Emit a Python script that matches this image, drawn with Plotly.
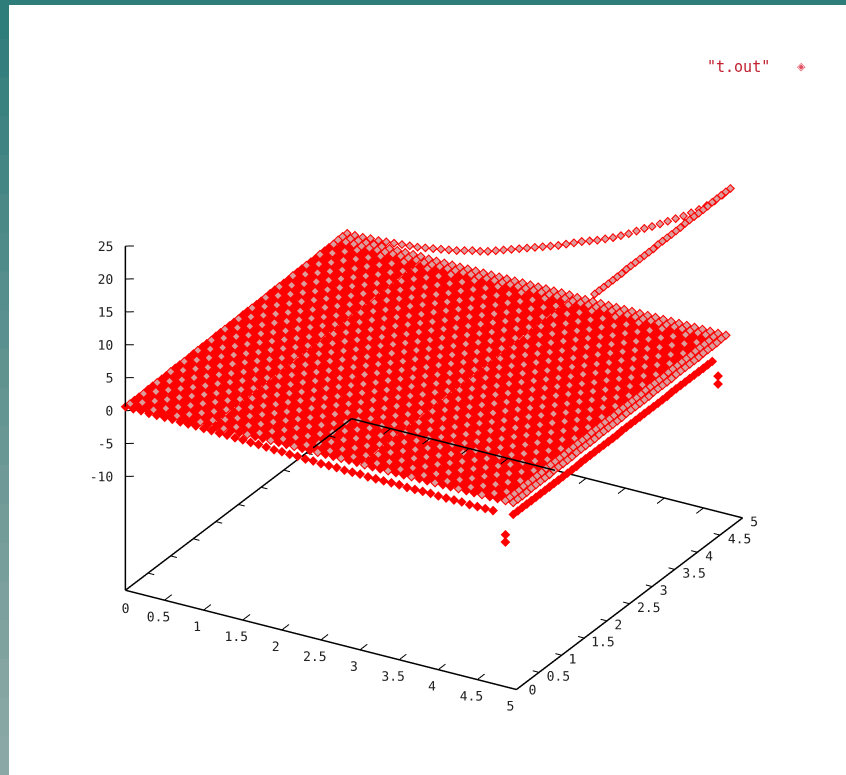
import plotly.graph_objects as go

# ---------- data ----------
x_grid = [0.0,0.1,0.2,0.3,0.4,0.5,0.6,0.7,0.8,0.9,1.0,1.1,1.2,1.3,1.4,1.5,1.6,1.7,1.8,1.9,
          2.0,2.1,2.2,2.3,2.4,2.5,2.6,2.7,2.8,2.9,3.0,3.1,3.2,3.3,3.4,3.5,3.6,3.7,3.8,3.9,
          4.0,4.1,4.2,4.3,4.4,4.5,4.6,4.7,4.8,4.9]
y_grid = [0.1,0.2,0.3,0.4,0.5,0.6,0.7,0.8,0.9,1.0,1.1,1.2,1.3,1.4,1.5,1.6,1.7,1.8,1.9,2.0,
          2.1,2.2,2.3,2.4,2.5,2.6,2.7,2.8,2.9,3.0,3.1,3.2,3.3,3.4,3.5,3.6,3.7,3.8,3.9,4.0,
          4.1,4.2,4.3,4.4,4.5,4.6,4.7,4.8]
row_level = [0.5,0.5,0.5,0.5,0.6,0.6,0.6,0.6,0.6,0.7,0.7,0.7,0.7,0.7,0.8,0.8,0.8,0.8,0.8,0.9,
             0.9,0.9,0.9,0.9,0.9,1.0,1.0,1.0,1.0,1.0,1.0,1.1,1.1,1.1,1.1,1.1,1.2,1.2,1.2,1.2,
             1.2,1.2,1.3,1.3,1.3,1.3,1.4,1.4]
col_offset = [0.0,0.0,0.0,0.0,0.0,0.0,0.0,0.0,0.0,0.0,0.0,-0.1,-0.1,-0.1,-0.1,-0.1,-0.1,-0.1,-0.1,-0.1,
              -0.1,-0.1,-0.1,-0.1,-0.1,-0.1,-0.1,-0.1,-0.1,-0.1,-0.2,-0.2,-0.2,-0.2,-0.2,-0.2,-0.2,-0.2,-0.2,-0.2,
              -0.2,-0.2,-0.2,-0.2,-0.2,-0.2,-0.2,-0.2,-0.2,-0.2]

front_x = [0.0,0.1,0.2,0.3,0.4,0.5,0.6,0.7,0.8,0.9,1.0,1.1,1.2,1.3,1.4,1.5,1.6,1.7,1.8,1.9,
           2.0,2.1,2.2,2.3,2.4,2.5,2.6,2.7,2.8,2.9,3.0,3.1,3.2,3.3,3.4,3.5,3.6,3.7,3.8,3.9,
           4.0,4.1,4.2,4.3,4.4,4.5,4.6,4.7]
front_z = [0.6,0.6,0.6,0.5,0.5,0.5,0.5,0.4,0.4,0.4,0.3,0.3,0.2,0.2,0.1,0.1,0.0,0.0,-0.1,-0.2,
           -0.2,-0.3,-0.3,-0.4,-0.4,-0.5,-0.5,-0.5,-0.6,-0.6,-0.6,-0.7,-0.7,-0.7,-0.7,-0.7,-0.8,-0.8,-0.8,-0.8,
           -0.9,-0.9,-0.9,-0.9,-1.0,-1.0,-1.0,-1.0]

strip_y = [0.1,0.2,0.3,0.4,0.5,0.6,0.7,0.8,0.9,1.0,1.1,1.2,1.3,1.4,1.5,1.6,1.7,1.8,1.9,2.0,2.1,2.2,2.3,2.4,
           2.5,2.6,2.7,2.8,2.9,3.0,3.1,3.2,3.3,3.4,3.5,3.6,3.7,3.8,3.9,4.0,4.1,4.2,4.3,4.4,4.5]
strip_z = [-1.5,-1.5,-1.5,-1.5,-1.5,-1.5,-1.5,-1.5,-1.5,-1.5,-1.5,-1.5,-1.5,-1.5,-1.5,-1.4,-1.4,-1.4,-1.4,-1.4,-1.4,-1.4,-1.4,-1.4,
           -1.3,-1.3,-1.3,-1.3,-1.3,-1.3,-1.3,-1.3,-1.3,-1.3,-1.3,-1.2,-1.2,-1.2,-1.2,-1.2,-1.2,-1.2,-1.2,-1.2,-1.2]

curve_x = [0.0,0.1,0.2,0.3,0.4,0.5,0.6,0.7,0.8,0.9,1.0,1.1,1.2,1.3,1.4,1.5,1.6,1.7,1.8,1.9,
           2.0,2.1,2.2,2.3,2.4,2.5,2.6,2.7,2.8,2.9,3.0,3.1,3.2,3.3,3.4,3.5,3.6,3.7,3.8,3.9,
           4.0,4.1,4.2,4.3,4.4,4.5,4.6,4.7,4.8,4.9]
curve_z = [1.4,1.4,1.4,1.5,1.5,1.6,1.7,1.8,1.9,2.0,2.2,2.4,2.6,2.8,3.0,3.3,3.6,3.8,4.1,4.5,
           4.9,5.3,5.7,6.1,6.5,6.9,7.3,7.7,8.2,8.7,9.2,9.6,10.0,10.5,11.0,11.6,12.2,12.9,13.6,14.2,
           14.9,15.6,16.3,17.0,17.8,18.6,19.5,20.5,21.7,23.0]

edge_y = [1.9,2.0,2.1,2.2,2.3,2.4,2.5,2.6,2.7,2.8,2.9,3.0,3.1,3.2,3.3,3.4,3.5,3.6,3.7,3.8,3.9,
          4.0,4.1,4.2,4.3,4.4,4.5,4.6,4.7,4.8,4.9]
edge_z = [22.6,22.6,22.6,22.6,22.6,22.6,22.6,22.7,22.7,22.7,22.7,22.7,22.7,22.7,22.8,22.8,22.8,22.8,22.8,22.8,22.9,
          22.9,22.9,22.9,22.9,22.9,23.0,23.0,23.0,23.0,23.0]

outlier_x = [4.8,4.8,4.8,4.8]
outlier_y = [0.1,0.1,4.8,4.8]
outlier_z = [-4.9,-6.0,-5.3,-6.5]

axis_ticks = [0,0.5,1,1.5,2,2.5,3,3.5,4,4.5,5]
axis_labels = ["0","0.5","1","1.5","2","2.5","3","3.5","4","4.5","5"]
z_ticks = [-10,-5,0,5,10,15,20,25]
z_range = [-27.3,25]

band_colors = ["#2e7d7a","#347f7d","#398280","#3f8482","#448684","#4a8986","#4f8b89","#558e8c","#5a908f","#5f9390",
               "#649592","#699794","#6e9996","#739b98","#789e9b","#7ca09d","#80a29f","#84a5a2","#87a7a4","#8aa9a6"]

# ---------- build ----------
red_x, red_y, red_z, pink_x, pink_y, pink_z = [], [], [], [], [], []
for j, yv in enumerate(y_grid):
    for i, xv in enumerate(x_grid):
        z = row_level[j] + col_offset[i]
        red_x.append(xv); red_y.append(yv); red_z.append(z)
        if (i - j) % 3 == 0 or j >= len(y_grid) - 2 or i >= len(x_grid) - 2:
            pink_x.append(xv); pink_y.append(yv); pink_z.append(z)

RED, PINK = "#ff0000", "#dc9c9c"
EYE = (0.45, -0.778, 0.439)
ASPECT = (1.192, 1.192, 1.003)
K = 5.0

def pts(x, y, z, symbol, size, color=RED):
    return go.Scatter3d(x=x, y=y, z=z, mode="markers", showlegend=False, hoverinfo="skip",
                        marker=dict(symbol=symbol, size=size, color=color, line=dict(width=0)))
def seg(x, y, z, width):
    return go.Scatter3d(x=x, y=y, z=z, mode="lines", showlegend=False, hoverinfo="skip",
                        line=dict(color="#000000", width=width))
def labels(x, y, z, text, pos):
    return go.Scatter3d(x=x, y=y, z=z, mode="text", text=text, textposition=pos, showlegend=False, hoverinfo="skip",
                        textfont=dict(family="DejaVu Sans Mono", size=13, color="#222222"))
def over_surface(x, y, z, width, t=1.254):
    # same screen position, moved along the line of sight so the back border shows over the red mass
    dx = EYE[0]*t/ASPECT[0]*5.04; dy = EYE[1]*t/ASPECT[1]*5.04; dz = EYE[2]*t/ASPECT[2]*(z_range[1]-z_range[0])
    return seg([v+dx for v in x], [v+dy for v in y], [v+dz for v in z], width)

fig = go.Figure()
fig.add_trace(pts(red_x, red_y, red_z, "diamond", 3.2))
fig.add_trace(pts(front_x, [0.0]*len(front_x), front_z, "diamond", 3.2))
fig.add_trace(pts([4.9]*len(strip_y), strip_y, strip_z, "diamond", 3.2))
fig.add_trace(pts(curve_x, [4.9]*len(curve_x), curve_z, "diamond", 3))
fig.add_trace(pts([4.9]*len(edge_y), edge_y, edge_z, "diamond", 3))
fig.add_trace(pts(outlier_x, outlier_y, outlier_z, "diamond", 3.2))
fig.add_trace(pts(pink_x, pink_y, pink_z, "diamond", 2.2, PINK))
fig.add_trace(pts(curve_x, [4.9]*len(curve_x), curve_z, "diamond", 2, PINK))
fig.add_trace(pts([4.9]*len(edge_y), edge_y, edge_z, "diamond", 2, PINK))

# base box, z axis and ticks, one trace per edge
zb, zt = z_range
fig.add_trace(seg([0,5],[0,0],[zb,zb],3))
fig.add_trace(seg([5,5],[0,5],[zb,zb],3))
fig.add_trace(seg([0,5],[5,5],[zb,zb],3))
fig.add_trace(seg([0,0],[0,5],[zb,zb],3))
fig.add_trace(seg([0,0],[0,0],[zb,zt],3))
for t in axis_ticks[1:-1]:
    fig.add_trace(seg([t,t],[0,0.16],[zb,zb],2))
    fig.add_trace(seg([t,t],[5,4.84],[zb,zb],2))
    fig.add_trace(seg([0,0.08],[t,t],[zb,zb],2))
    fig.add_trace(seg([5,4.92],[t,t],[zb,zb],2))
for t in z_ticks:
    fig.add_trace(seg([0,0.08],[0,0.05],[t,t],2))

# the part of the back border that shows through the surface
fig.add_trace(over_surface([0,2.6],[5,5],[zb,zb],3))
fig.add_trace(over_surface([0,0],[4.15,5],[zb,zb],3))
for t in axis_ticks[1:5]:
    fig.add_trace(over_surface([t,t],[5,4.84],[zb,zb],2))
fig.add_trace(over_surface([0,0.08],[4.5,4.5],[zb,zb],2))

# axis labels
fig.add_trace(labels([max(0, t-0.08) for t in axis_ticks], [0]*len(axis_ticks), [zb]*len(axis_ticks), axis_labels, "bottom center"))
fig.add_trace(labels([5]*len(axis_ticks), [max(0, t-0.1) for t in axis_ticks], [zb]*len(axis_ticks), axis_labels, "middle right"))
fig.add_trace(labels([0]*len(z_ticks), [0]*len(z_ticks), z_ticks, [str(v) for v in z_ticks], "middle left"))

ax = dict(range=[-0.02,5.02], showbackground=False, showgrid=False, zeroline=False, showline=False, ticks="",
          showspikes=False, title=dict(text=""), showticklabels=False)
fig.update_layout(
    width=846, height=775, margin=dict(l=0,r=0,t=0,b=0), paper_bgcolor="#ffffff", showlegend=False,
    scene=dict(
        domain=dict(x=[22/846,1], y=[11/775,1]),
        xaxis=ax, yaxis=ax, zaxis=dict(ax, range=[z_range[0]-0.01, z_range[1]+0.01]),
        aspectmode="manual", aspectratio=dict(x=ASPECT[0],y=ASPECT[1],z=ASPECT[2]),
        camera=dict(eye=dict(x=EYE[0]*K,y=EYE[1]*K,z=EYE[2]*K), up=dict(x=0,y=0,z=1),
                    center=dict(x=0,y=0,z=0), projection=dict(type="orthographic")),
    ),
    annotations=[
        dict(text='"t.out"', x=738/846, y=1-67/775, xref="paper", yref="paper", showarrow=False,
             xanchor="center", yanchor="middle", font=dict(family="DejaVu Sans Mono", size=15, color="#c02030")),
        dict(text="◈", x=801/846, y=1-67/775, xref="paper", yref="paper", showarrow=False,
             xanchor="center", yanchor="middle", font=dict(family="DejaVu Sans", size=11, color="#e05060")),
    ],
)
n = len(band_colors)
shapes = [dict(type="rect", xref="paper", yref="paper", x0=0, x1=9/846, y0=0, y1=1-i/n,
               fillcolor=c, line=dict(width=0), layer="above") for i, c in enumerate(band_colors)]
shapes.append(dict(type="rect", xref="paper", yref="paper", x0=0, x1=1, y0=1-5/775, y1=1,
                   fillcolor=band_colors[0], line=dict(width=0), layer="above"))
fig.update_layout(shapes=shapes)
fig.write_html("out.html", config={"displayModeBar": False},
               post_script="document.body.style.margin='0';document.documentElement.style.overflow='hidden';")
